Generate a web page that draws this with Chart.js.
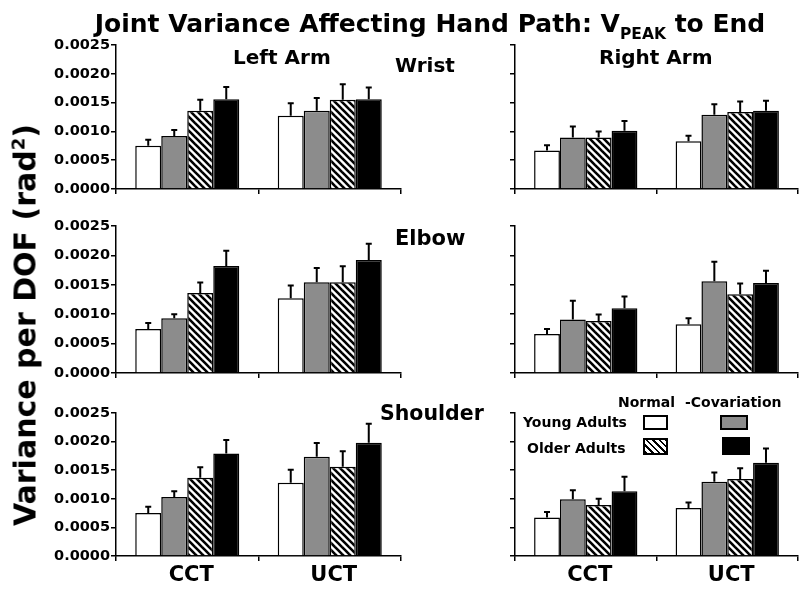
<!DOCTYPE html>
<html>
<head>
<meta charset="utf-8">
<script src="https://cdn.jsdelivr.net/npm/chart.js@4.4.0/dist/chart.umd.min.js"></script>
<style>
body { margin: 0; background: #fff; }
#wrap { position: relative; width: 800px; height: 592px; overflow: hidden; font-family: 'DejaVu Sans', sans-serif; font-weight: bold; color: #000; }
canvas { position: absolute; }
.lbl { position: absolute; white-space: nowrap; line-height: 1; }
.box { position: absolute; box-sizing: border-box; border: 2px solid #000; }
</style>
</head>
<body>
<div id="wrap">
  <canvas id="c0" width="402" height="166" style="left:0;top:33px"></canvas>
  <canvas id="c1" width="400" height="166" style="left:400px;top:33px"></canvas>
  <canvas id="c2" width="402" height="169" style="left:0;top:214px"></canvas>
  <canvas id="c3" width="400" height="169" style="left:400px;top:214px"></canvas>
  <canvas id="c4" width="402" height="191" style="left:0;top:401px"></canvas>
  <canvas id="c5" width="400" height="191" style="left:400px;top:401px"></canvas>

  <div class="lbl" style="left:430px;top:11px;font-size:25px;transform:translateX(-50%)">Joint Variance Affecting Hand Path: V<span style="font-size:15.5px;position:relative;top:7px">PEAK</span> to End</div>
  <div class="lbl" style="left:25px;top:325px;font-size:30px;transform:translate(-50%,-50%) rotate(-90deg)">Variance per DOF (rad<sup style="font-size:18px">2</sup>)</div>

  <div class="lbl" style="left:233px;top:47px;font-size:20px">Left Arm</div>
  <div class="lbl" style="left:599px;top:47px;font-size:20px">Right Arm</div>
  <div class="lbl" style="left:395px;top:55px;font-size:20px">Wrist</div>
  <div class="lbl" style="left:395px;top:228px;font-size:21px">Elbow</div>
  <div class="lbl" style="left:380px;top:403px;font-size:20.5px">Shoulder</div>

  <div class="lbl" style="left:618px;top:395px;font-size:14px">Normal</div>
  <div class="lbl" style="left:685px;top:395px;font-size:14px">-Covariation</div>
  <div class="lbl" style="left:523px;top:415px;font-size:14px">Young Adults</div>
  <div class="lbl" style="left:527px;top:441px;font-size:14px">Older Adults</div>
  <div class="box" style="left:643px;top:415px;width:25px;height:15px;background:#fff"></div>
  <div class="box" style="left:720px;top:415px;width:28px;height:15px;background:#8c8c8c"></div>
  <div class="box" style="left:643px;top:438px;width:25px;height:17px;background:repeating-linear-gradient(45deg,#000 0 2px,#fff 2px 4.6px)"></div>
  <div class="box" style="left:722px;top:437px;width:28px;height:18px;background:#000"></div>
</div>

<script>
const groups = ['CCT', 'UCT'];
const seriesNames = ['Young Normal', 'Young -Covariation', 'Older Normal', 'Older -Covariation'];
const yTicks = [0, 0.0005, 0.0010, 0.0015, 0.0020, 0.0025];

// means per series, values for [CCT, UCT]
const leftWristMean  = [[0.00075, 0.00127], [0.00092, 0.00136], [0.00136, 0.00155], [0.00156, 0.00156]];
const leftWristSem   = [[0.000105, 0.00022], [0.000105, 0.00022], [0.00019, 0.00027], [0.00021, 0.00020]];
const rightWristMean = [[0.00067, 0.00083], [0.000895, 0.00129], [0.000895, 0.001335], [0.00101, 0.00136]];
const rightWristSem  = [[0.00009, 0.000095], [0.00019, 0.00018], [0.000105, 0.000185], [0.00017, 0.00017]];
const leftElbowMean  = [[0.00075, 0.00127], [0.00093, 0.001545], [0.00136, 0.001545], [0.00182, 0.00192]];
const leftElbowSem   = [[0.0001, 0.00022], [0.00007, 0.00024], [0.00018, 0.00027], [0.00026, 0.00028]];
const rightElbowMean = [[0.000665, 0.00083], [0.00091, 0.00156], [0.000885, 0.00134], [0.0011, 0.00153]];
const rightElbowSem  = [[0.000085, 0.0001], [0.00032, 0.00033], [0.00011, 0.00018], [0.0002, 0.00021]];
const leftShoulderMean  = [[0.00075, 0.00128], [0.00103, 0.001735], [0.00137, 0.00156], [0.00179, 0.00198]];
const leftShoulderSem   = [[0.00011, 0.00023], [0.0001, 0.00024], [0.00018, 0.00027], [0.00024, 0.00033]];
const rightShoulderMean = [[0.000675, 0.00084], [0.00099, 0.0013], [0.00089, 0.001345], [0.00113, 0.00163]];
const rightShoulderSem  = [[0.000095, 0.000095], [0.00016, 0.00016], [0.00011, 0.00019], [0.000255, 0.00025]];

Chart.defaults.font.family = "'DejaVu Sans', sans-serif";
Chart.defaults.font.weight = 'bold';
Chart.defaults.color = '#000';

function hatch() {
    const s = 7;
    const c = document.createElement('canvas');
    c.width = s; c.height = s;
    const g = c.getContext('2d');
    g.fillStyle = '#fff';
    g.fillRect(0, 0, s, s);
    g.strokeStyle = '#000';
    g.lineWidth = 2.6;
    for (let k = -1; k <= 1; k++) {
        g.beginPath();
        g.moveTo(k * s - 1, -1);
        g.lineTo(k * s + s + 1, s + 1);
        g.stroke();
    }
    return g.createPattern(c, 'repeat');
}
const fills = ['#ffffff', '#8c8c8c', hatch(), '#000000'];

// vertical error line with small cap above each bar
const errorBars = {
    id: 'errorBars',
    afterDatasetsDraw(chart) {
        const ctx = chart.ctx;
        const y = chart.scales.y;
        ctx.save();
        ctx.strokeStyle = '#000';
        ctx.lineWidth = 2;
        chart.data.datasets.forEach(function(ds, d) {
            chart.getDatasetMeta(d).data.forEach(function(bar, i) {
                const top = y.getPixelForValue(ds.data[i] + ds.errors[i]);
                ctx.beginPath();
                ctx.moveTo(bar.x, bar.y);
                ctx.lineTo(bar.x, top);
                ctx.moveTo(bar.x - 3, top);
                ctx.lineTo(bar.x + 3, top);
                ctx.stroke();
            });
        });
        ctx.restore();
    }
};

function panel(id, means, sems, left, xHeight, showX) {
    new Chart(document.getElementById(id), {
        type: 'bar',
        data: {
            labels: groups,
            datasets: means.map(function(m, i) {
                return {
                    label: seriesNames[i],
                    data: m,
                    errors: sems[i],
                    backgroundColor: fills[i],
                    borderColor: '#000',
                    borderWidth: 1.5,
                    categoryPercentage: 0.73,
                    barPercentage: 1.0
                };
            })
        },
        options: {
            responsive: false,
            animation: false,
            events: [],
            layout: { padding: { top: 12, left: 0, right: left ? 1 : 2, bottom: 0 } },
            plugins: { legend: { display: false }, tooltip: { enabled: false } },
            scales: {
                x: {
                    offset: true,
                    grid: { display: true, drawOnChartArea: false, drawTicks: true, tickLength: 5, color: '#000', lineWidth: 1.5, offset: true },
                    border: { display: true, color: '#000', width: 1.5 },
                    ticks: { display: showX, color: '#000', font: { size: 21, weight: 'bold' }, padding: 2, labelOffset: 4 },
                    afterFit: function(s) { s.height = xHeight; }
                },
                y: {
                    min: 0,
                    max: 0.0025,
                    afterBuildTicks: function(s) { s.ticks = yTicks.map(function(v) { return { value: v }; }); },
                    grid: { display: true, drawOnChartArea: false, drawTicks: true, tickLength: 5, color: '#000', lineWidth: 1.5 },
                    border: { display: true, color: '#000', width: 1.5 },
                    ticks: {
                        color: left ? '#000' : 'rgba(0,0,0,0)',
                        font: { size: 14.5, weight: 'bold' },
                        padding: 1,
                        callback: function(v) { return Number(v).toFixed(4); }
                    },
                    afterFit: function(s) { s.width = left ? 116 : 115; }
                }
            }
        },
        plugins: [errorBars]
    });
}

panel('c0', leftWristMean, leftWristSem, true, 10, false);
panel('c1', rightWristMean, rightWristSem, false, 10, false);
panel('c2', leftElbowMean, leftElbowSem, true, 10, false);
panel('c3', rightElbowMean, rightElbowSem, false, 10, false);
panel('c4', leftShoulderMean, leftShoulderSem, true, 36, true);
panel('c5', rightShoulderMean, rightShoulderSem, false, 36, true);
</script>
</body>
</html>
